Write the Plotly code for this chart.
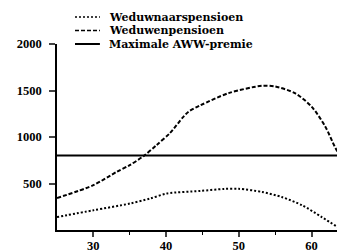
import plotly.graph_objects as go

# Data
widow_x = [25, 30, 33.2, 35, 36.9, 38.7, 40.5, 42.4, 43.1, 44.7, 48.6, 53.2, 55.0, 57.7, 60.0, 61.9, 63.2, 63.9, 64.6]
widow_y = [344, 482, 625, 698, 795, 914, 1040, 1219, 1273, 1340, 1472, 1551, 1543, 1472, 1327, 1111, 895, 795, 625]

widower_x = [25, 30, 35, 37.8, 40.1, 44.7, 48.0, 50.0, 53.2, 55.9, 58.7, 61.4, 64.2]
widower_y = [139, 212, 284, 338, 392, 420, 442, 443, 409, 355, 266, 139, 0]

aww_x = [25, 64.6]
aww_y = [800, 800]

x_ticks = [30, 40, 50, 60]
y_ticks = [500, 1000, 1500, 2000]

names = ["Weduwnaarspensioen", "Weduwenpensioen", "Maximale AWW-premie"]
dashes = ["2px,2px", "4px,2px", "solid"]

tick_font = dict(family="Liberation Serif", size=12.5, color="black", weight="bold")
leg_font = dict(family="DejaVu Serif", size=11, color="black", weight="bold")

fig = go.Figure()
fig.add_trace(go.Scatter(x=widower_x, y=widower_y, mode="lines", name=names[0],
                         line=dict(color="black", width=2, dash=dashes[0], shape="spline", smoothing=0.8)))
fig.add_trace(go.Scatter(x=widow_x, y=widow_y, mode="lines", name=names[1],
                         line=dict(color="black", width=2, dash=dashes[1], shape="spline", smoothing=0.8)))
fig.add_trace(go.Scatter(x=aww_x, y=aww_y, mode="lines", name=names[2],
                         line=dict(color="black", width=2)))

# Legend drawn as text + sample lines above the plot (paper coordinates)
leg_rows = [1.145, 1.073, 1.0]
for name, dash, yy in zip(names, dashes, leg_rows):
    fig.add_shape(type="line", xref="paper", yref="paper", x0=0.0625, x1=0.149, y0=yy, y1=yy,
                  line=dict(color="black", width=1.5 if dash != "solid" else 2, dash=dash))
    fig.add_annotation(xref="paper", yref="paper", x=0.174, y=yy, text=name, showarrow=False,
                       xanchor="left", yanchor="middle", font=leg_font)

# The page body has an 8px default margin, so the figure is sized to fit the window
fig.update_layout(
    width=337, height=243,
    margin=dict(l=49, r=0, t=36, b=21, autoexpand=False),
    paper_bgcolor="white", plot_bgcolor="white",
    showlegend=False,
)
fig.update_xaxes(range=[25, 64.6], tickvals=x_ticks, ticks="outside", ticklen=5, tickwidth=1.5,
                 showline=True, linecolor="black", linewidth=1.5, showgrid=False, zeroline=False,
                 tickfont=tick_font, ticklabelstandoff=-2,
                 minor=dict(tickvals=[35, 45, 55], ticks="outside", ticklen=3, tickwidth=1, tickcolor="black"))
fig.update_yaxes(range=[0, 2000], tickvals=y_ticks, ticks="outside", ticklen=6, tickwidth=1.5,
                 showline=True, linecolor="black", linewidth=1.5, showgrid=False, zeroline=False,
                 tickfont=tick_font, ticklabelstandoff=5)

fig.write_html("out.html")
